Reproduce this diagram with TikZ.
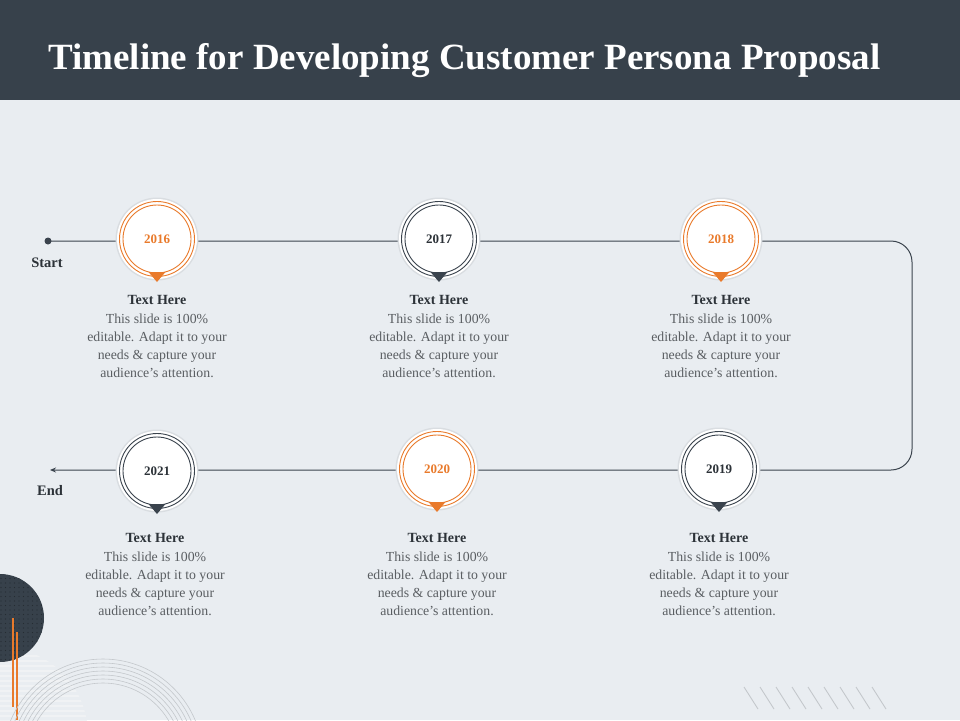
\documentclass[tikz,border=0pt]{standalone}
\usepackage{fontspec}
\setmainfont{Liberation Serif}
\usetikzlibrary{arrows.meta}
\definecolor{bg}{HTML}{E9EDF1}
\definecolor{hdr}{HTML}{37414B}
\definecolor{ln}{HTML}{3A434D}
\definecolor{org}{HTML}{E97A2B}
\definecolor{bodyc}{HTML}{5A5E62}
\definecolor{headc}{HTML}{2C3238}
\definecolor{shad}{HTML}{D9DDE1}
\definecolor{arcc}{HTML}{C4C8CC}
\definecolor{dotc}{HTML}{252C33}
\definecolor{stripec}{HTML}{F0F2F4}
\tikzset{
  tline/.style={draw=ln, line width=1pt},
  yearorg/.style={font=\fontsize{13}{13}\selectfont\bfseries, text=org},
  yeardark/.style={font=\fontsize{13}{13}\selectfont\bfseries, text=headc},
  headtxt/.style={font=\fontsize{14}{14}\selectfont\bfseries, text=headc, anchor=base},
  bodytxt/.style={font=\fontsize{13.8}{18}\selectfont, text=bodyc, align=center, anchor=north},
  lbl/.style={font=\fontsize{14.5}{15}\selectfont\bfseries, text=headc, anchor=base},
}
% \yearbubble{name}{x}{y}{colour}{year}{style}
\newcommand{\yearbubble}[6]{%
  \fill[shad] (#2,#3) circle (41.5);
  \fill[white] (#2,#3) circle (40);
  \draw[#4, line width=0.9pt] (#2,#3) circle (37.5);
  \draw[#4, line width=0.9pt] (#2,#3) circle (34);
  \fill[#4] (#2-8.5,#3+33) -- (#2+8.5,#3+33) -- (#2,#3+43) -- cycle;
  \node[#6] (#1) at (#2,#3) {#5};
}
\newcommand{\textblock}[3]{%
  \node[headtxt] (#1h) at (#2,#3) {Text Here};
  \node[bodytxt] (#1b) at (#2,#3+6) {This slide is 100\%\\editable. Adapt it to your\\needs \& capture your\\audience's attention.};
}
\begin{document}
\begin{tikzpicture}[x=1pt,y=-1pt]
\useasboundingbox (0,0) rectangle (960,720);
\fill[bg] (0,0) rectangle (960,720);
% header
\fill[hdr] (0,0) rectangle (960,100);
\node[font=\fontsize{37}{38}\selectfont\bfseries, text=white, anchor=base west, inner sep=0pt] (title) at (48,69) {Timeline for Developing Customer Persona Proposal};

% bottom-left decorations
\begin{scope}
  \clip (0,735) circle (88);
  \foreach \yy in {645,650,...,720} {\fill[stripec] (0,\yy) rectangle (100,\yy+2.2);}
\end{scope}
\fill[hdr] (0,618) circle (44);
\begin{scope}
  \clip (0,618) circle (44);
  \foreach \xx in {1,5.5,...,45} {\foreach \yy in {574,578.5,...,664} {\fill[dotc] (\xx,\yy) circle (0.55);}}
\end{scope}
\draw[draw=org, line width=1.4pt] (13,618) -- (13,707);
\draw[draw=org, line width=1.4pt] (17,632) -- (17,720);
\foreach \r in {100,96,92,88,84,80,76} {\draw[arcc, line width=0.6pt] (103,759) circle (\r);}
% hashes bottom right
\foreach \i in {0,...,8} {\draw[arcc, line width=0.9pt] (744+16*\i,687) -- (758+16*\i,709);}

% timeline
\fill[ln] (48,241) circle (3.5);
\coordinate (startdot) at (48,241);
\coordinate (turnA) at (912,241);
\coordinate (turnB) at (912,470);
\coordinate (endpt) at (50,470);
\draw[tline, rounded corners=21pt, -{Stealth[length=6pt,width=5pt]}] (startdot) -- (turnA) -- (turnB) -- (endpt);
\node[lbl] (startlbl) at (47,267) {Start};
\node[lbl] (endlbl) at (50,495) {End};

% bubbles
\yearbubble{y2016}{157}{239}{org}{2016}{yearorg}
\yearbubble{y2017}{439}{239}{ln}{2017}{yeardark}
\yearbubble{y2018}{721}{239}{org}{2018}{yearorg}
\yearbubble{y2019}{719}{469}{ln}{2019}{yeardark}
\yearbubble{y2020}{437}{469}{org}{2020}{yearorg}
\yearbubble{y2021}{157}{471}{ln}{2021}{yeardark}

% texts
\textblock{t1}{157}{304}
\textblock{t2}{439}{304}
\textblock{t3}{721}{304}
\textblock{t6}{155}{542}
\textblock{t5}{437}{542}
\textblock{t4}{719}{542}
\end{tikzpicture}
\end{document}
